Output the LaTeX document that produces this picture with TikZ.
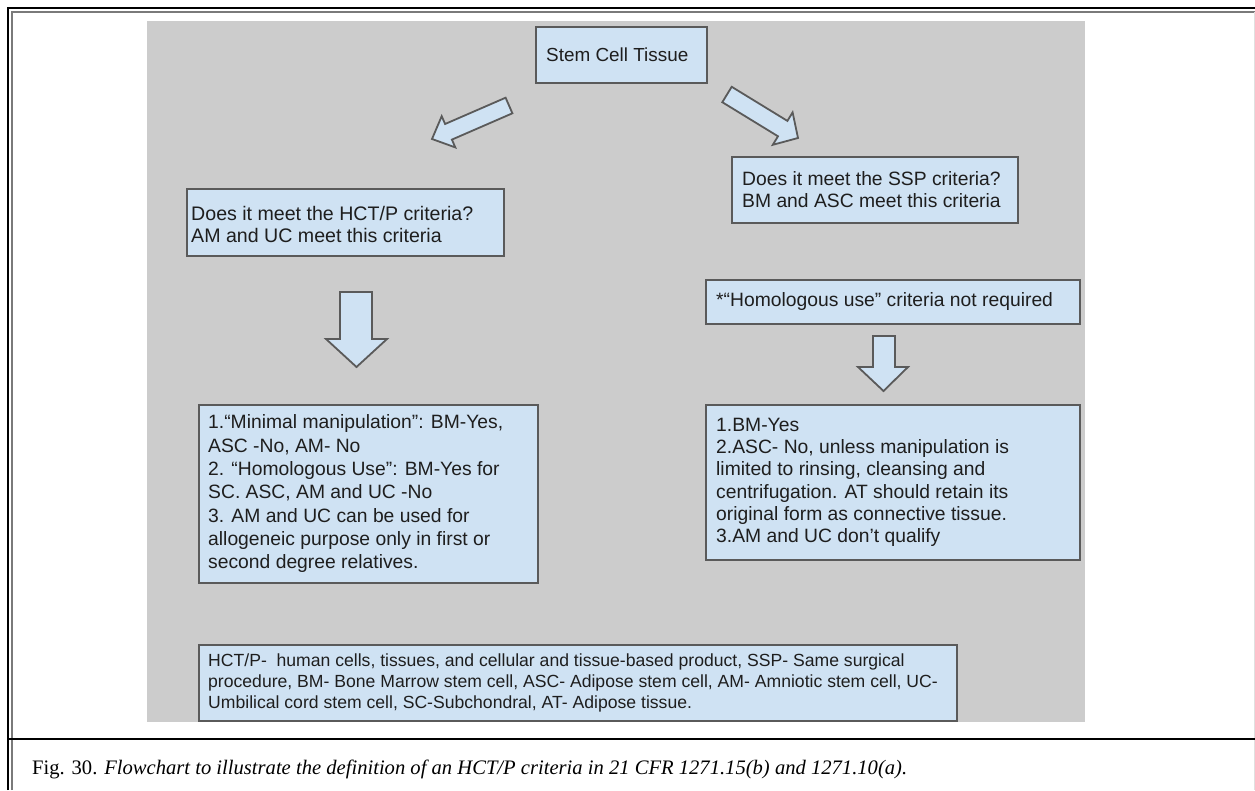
\documentclass[tikz,border=0pt]{standalone}
\usepackage{fontspec}
\setmainfont{Liberation Serif}
\newfontfamily\boxfont{Liberation Sans}
\definecolor{bgray}{HTML}{CCCCCC}
\definecolor{boxfill}{HTML}{CFE2F3}
\definecolor{boxline}{HTML}{5A5A5A}
\definecolor{txtc}{HTML}{1E1E1E}
\definecolor{framegray}{HTML}{7A7A7A}
\begin{document}
\begin{tikzpicture}[x=1pt,y=-1pt,
  box/.style={draw=boxline, line width=1.8pt, fill=boxfill, rectangle, inner sep=0pt, anchor=north west},
  btxt/.style={font=\boxfont\fontsize{19.3}{22}\selectfont, text=txtc, align=left, inner sep=0pt, anchor=west},
  barrow/.style={draw=boxline, line width=1.8pt, fill=boxfill, line join=miter},
  blackline/.style={draw=black, line width=2.6pt},
  grayline/.style={draw=framegray, line width=1.3pt}]
\useasboundingbox (0,0) rectangle (1255,790);
\fill[white] (0,0) rectangle (1255,790);
% frame
\draw[blackline] (8,790) -- (8,8) -- (1255,8);
\draw[grayline] (12,790) -- (12,12) -- (1255,12);
\draw[draw=black!12, line width=1pt] (1254.5,12) -- (1254.5,790);
\draw[blackline] (9,739) -- (1255,739);
% grey panel
\fill[bgray] (147,21) rectangle (1085,722);
% boxes
\node[box, minimum width=171pt, minimum height=56pt] (stem) at (535,26) {};
\node[btxt, font=\boxfont\fontsize{18.9}{22}\selectfont] (stemT) at ([xshift=11pt]stem.west) {Stem Cell Tissue};

\node[box, minimum width=317pt, minimum height=67pt] (hctp) at (186,188) {};
\node[btxt, font=\boxfont\fontsize{19.6}{21.7}\selectfont] (hctpT) at ([xshift=5pt,yshift=-2pt]hctp.west) {Does it meet the HCT/P criteria?\\AM and UC meet this criteria};

\node[box, minimum width=286pt, minimum height=66pt] (ssp) at (731,156) {};
\node[btxt, font=\boxfont\fontsize{19.3}{21.7}\selectfont] (sspT) at ([xshift=11pt]ssp.west) {Does it meet the SSP criteria?\\BM and ASC meet this criteria};

\node[box, minimum width=374pt, minimum height=44pt] (homol) at (705,279) {};
\node[btxt] (homolT) at ([xshift=11pt]homol.west) {*“Homologous use” criteria not required};

\node[box, minimum width=339pt, minimum height=178pt] (left) at (198,404) {};
\node[btxt, font=\boxfont\fontsize{19.3}{23.3}\selectfont] (leftT) at ([xshift=10pt]left.west) {1.“Minimal manipulation”: BM-Yes,\\ASC -No, AM- No\\2. “Homologous Use”: BM-Yes for\\SC. ASC, AM and UC -No\\3. AM and UC can be used for\\allogeneic purpose only in first or\\second degree relatives.};

\node[box, minimum width=374pt, minimum height=155pt] (right) at (705,404) {};
\node[btxt, font=\boxfont\fontsize{19.3}{22.3}\selectfont] (rightT) at ([xshift=11pt]right.west) {1.BM-Yes\\2.ASC- No, unless manipulation is\\limited to rinsing, cleansing and\\centrifugation. AT should retain its\\original form as connective tissue.\\3.AM and UC don’t qualify};

\node[box, minimum width=758pt, minimum height=76pt] (abbr) at (198,644) {};
\node[btxt, font=\boxfont\fontsize{17.6}{21}\selectfont] (abbrT) at ([xshift=10pt]abbr.west) {HCT/P-\ \ human cells, tissues, and cellular and tissue-based product, SSP- Same surgical\\procedure, BM- Bone Marrow stem cell, ASC- Adipose stem cell, AM- Amniotic stem cell, UC-\\Umbilical cord stem cell, SC-Subchondral, AT- Adipose tissue.};

% block arrows
\draw[barrow] (505.6,97.7) -- (445.1,124.0) -- (441.7,116.2) -- (432,139) -- (455.3,147.4) -- (451.9,139.6) -- (512.4,113.3) -- cycle;
\draw[barrow] (731.7,86.8) -- (787.4,120.9) -- (792.6,112.4) -- (798,138) -- (772.8,144.8) -- (778,136.3) -- (722.3,102.2) -- cycle;
\draw[barrow] (340,292) -- (372,292) -- (372,339) -- (387,339) -- (356.5,367) -- (326,339) -- (340,339) -- cycle;
\draw[barrow] (873,336) -- (895,336) -- (895,367) -- (908,367) -- (883.5,391) -- (858,367) -- (873,367) -- cycle;

% caption
\node[anchor=base west, inner sep=0pt, font=\fontsize{20.6}{25}\selectfont] (cap) at (32,774) {Fig. 30. \textit{Flowchart to illustrate the definition of an HCT/P criteria in 21 CFR 1271.15(b) and 1271.10(a).}};
\end{tikzpicture}
\end{document}
